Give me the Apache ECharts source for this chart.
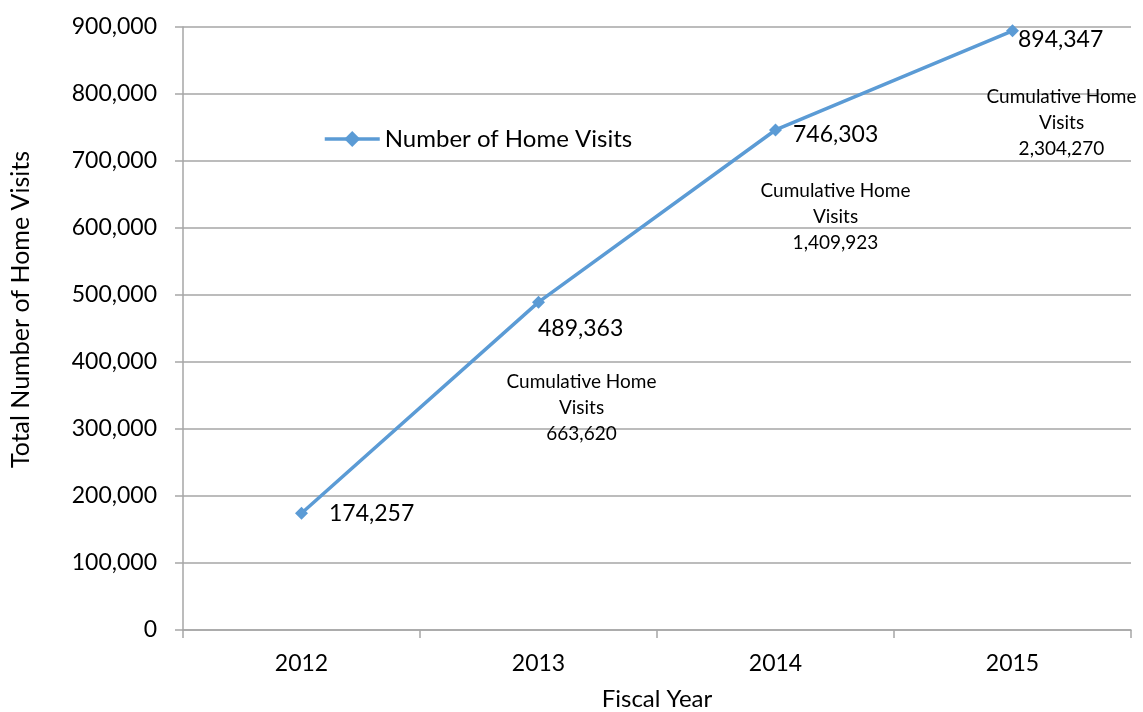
<!DOCTYPE html>
<html>
<head>
<meta charset="utf-8">
<script src="https://cdn.jsdelivr.net/npm/echarts@6/dist/echarts.min.js"></script>
<style>
  html, body { margin: 0; padding: 0; background: #fff; }
  #lineChart { width: 1143px; height: 712px; }
</style>
</head>
<body>
<div id="lineChart"></div>
<script>
const years = ['2012', '2013', '2014', '2015']
const homeVisits = [174257, 489363, 746303, 894347]
const yTicks = { min: 0, max: 900000, interval: 100000 }

// running total for the "Cumulative Home Visits" notes (2013 onwards)
const cumulative = homeVisits.reduce((acc, v, i) => {
  acc.push((i ? acc[i - 1] : 0) + v)
  return acc
}, [])

const FONT = 'Lato, "Open Sans", sans-serif'
const fmt = v => v.toLocaleString('en-US')

// label nudges so they sit like the original
const labelOffsets = [[16, 0], [-12, 26], [6, 5], [-6, 9]]
// where the cumulative notes hang, in axis units
const noteAnchors = [null, [1, 331000], [2, 616000], [3, 757000]]
const noteShift = [null, [43, 0], [60, 0], [49, 0]]

const chart = echarts.init(document.getElementById('lineChart'))

const option = {
  animation: false,
  textStyle: { fontFamily: FONT, color: '#000' },
  grid: { left: 183, right: 12, top: 27, bottom: 82, outerBoundsMode: 'none' },
  legend: {
    left: 318,
    top: 122,
    itemWidth: 55,
    itemHeight: 20,
    itemGap: 5,
    lineStyle: { width: 3.5 },
    textStyle: { fontFamily: FONT, fontSize: 24, color: '#000' },
    data: ['Number of Home Visits'],
  },
  xAxis: {
    type: 'category',
    data: years,
    boundaryGap: true,
    name: 'Fiscal Year',
    nameLocation: 'middle',
    nameGap: 57,
    nameTextStyle: { fontFamily: FONT, fontSize: 24, color: '#000' },
    axisLine: { lineStyle: { color: '#a6a6a6', width: 1.5 } },
    axisTick: { show: true, length: 8, lineStyle: { color: '#a6a6a6', width: 1.5 } },
    axisLabel: { fontFamily: FONT, fontSize: 23, color: '#000', margin: 22 },
  },
  yAxis: {
    type: 'value',
    min: yTicks.min,
    max: yTicks.max,
    interval: yTicks.interval,
    name: 'Total Number of Home Visits',
    nameLocation: 'middle',
    nameGap: 150,
    nameTextStyle: { fontFamily: FONT, fontSize: 25, color: '#000', padding: [0, 0, 0, 38] },
    axisLine: { show: true, lineStyle: { color: '#a6a6a6', width: 1.5 } },
    axisTick: { show: true, length: 8, lineStyle: { color: '#a6a6a6', width: 1.5 } },
    axisLabel: {
      fontFamily: FONT, fontSize: 23, color: '#000', margin: 26,
      formatter: v => fmt(v),
    },
    splitLine: { lineStyle: { color: '#a6a6a6', width: 1.5 } },
  },
  series: [{
    name: 'Number of Home Visits',
    type: 'line',
    symbol: 'diamond',
    symbolSize: 13,
    color: '#5b9bd5',
    lineStyle: { color: '#5b9bd5', width: 3.5 },
    itemStyle: { color: '#5b9bd5' },
    data: homeVisits.map((v, i) => ({
      value: v,
      label: { offset: labelOffsets[i] },
    })),
    label: {
      show: true,
      position: 'right',
      fontFamily: FONT,
      fontSize: 23,
      color: '#000',
      formatter: p => fmt(p.value),
    },
    markPoint: {
      symbol: 'circle',
      symbolSize: 0,
      silent: true,
      label: {
        show: true,
        position: 'inside',
        fontFamily: FONT,
        fontSize: 19,
        lineHeight: 26,
        color: '#000',
        align: 'center',
      },
      data: cumulative.map((c, i) => noteAnchors[i] && ({
        coord: noteAnchors[i],
        label: {
          offset: noteShift[i],
          formatter: 'Cumulative Home\nVisits\n' + fmt(c),
        },
      })).filter(Boolean),
    },
  }],
}

chart.setOption(option)
</script>
</body>
</html>
